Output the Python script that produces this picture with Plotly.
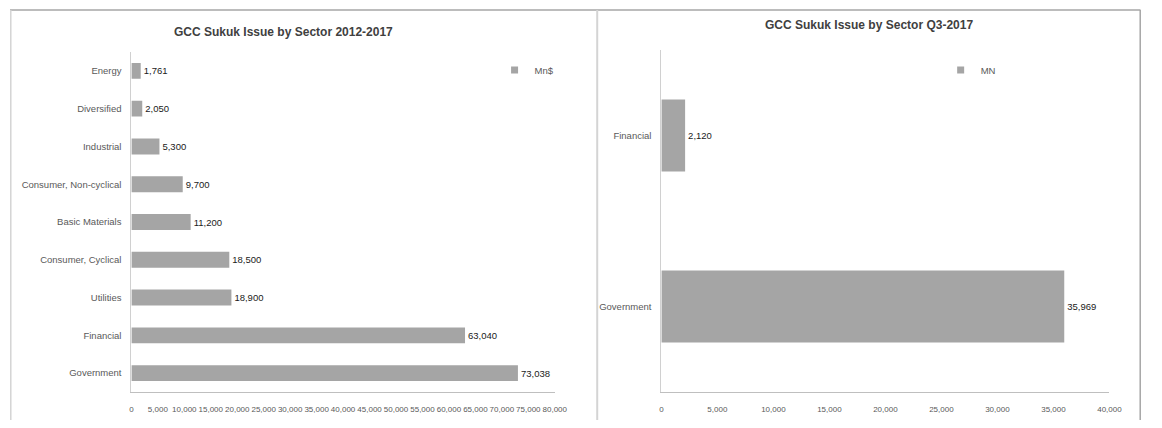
import plotly.graph_objects as go

# ---- data ----
sectors_all = ["Energy", "Diversified", "Industrial", "Consumer, Non-cyclical",
               "Basic Materials", "Consumer, Cyclical", "Utilities", "Financial", "Government"]
issue_all = [1761, 2050, 5300, 9700, 11200, 18500, 18900, 63040, 73038]

sectors_q3 = ["Financial", "Government"]
issue_q3 = [2120, 35969]

ticks_left = [0, 5000, 10000, 15000, 20000, 25000, 30000, 35000, 40000,
              45000, 50000, 55000, 60000, 65000, 70000, 75000, 80000]
ticks_right = [0, 5000, 10000, 15000, 20000, 25000, 30000, 35000, 40000]

title_left = "GCC Sukuk Issue by Sector 2012-2017"
title_right = "GCC Sukuk Issue by Sector Q3-2017"

# ---- layout helpers (page body has an 8px margin) ----
OFF = 8
W, H = 1162 - 2 * OFF, 428 - 2 * OFF
FONT = "Liberation Sans, Arial, sans-serif"
BAR = "#a5a5a5"
GREY_TXT = "#595959"


def px(x):
    return (x - OFF) / W


def py(y):
    return 1 - (y - OFF) / H


fig = go.Figure()

fig.add_trace(go.Bar(
    y=sectors_all, x=issue_all, orientation="h", name="Mn$", showlegend=False,
    marker=dict(color=BAR, line=dict(width=0)),
    texttemplate="%{x:,}", textposition="outside", cliponaxis=False,
    textfont=dict(family=FONT, size=9.5, color="#1a1a1a"),
    xaxis="x", yaxis="y",
))
fig.add_trace(go.Scatter(
    x=[None], y=[None], mode="markers", name="Mn$", showlegend=True,
    marker=dict(symbol="square", size=7, color=BAR),
    xaxis="x", yaxis="y", legend="legend",
))

fig.add_trace(go.Bar(
    y=sectors_q3, x=issue_q3, orientation="h", name="MN", showlegend=False,
    marker=dict(color=BAR, line=dict(width=0)),
    texttemplate="%{x:,}", textposition="outside", cliponaxis=False,
    textfont=dict(family=FONT, size=9.5, color="#1a1a1a"),
    xaxis="x2", yaxis="y2",
))
fig.add_trace(go.Scatter(
    x=[None], y=[None], mode="markers", name="MN", showlegend=True,
    marker=dict(symbol="square", size=7, color=BAR),
    xaxis="x2", yaxis="y2", legend="legend2",
))

axis_common = dict(showgrid=False, zeroline=False, ticks="", tickangle=0,
                   tickfont=dict(family=FONT, size=8, color=GREY_TXT),
                   tickformat=",", ticklabelstandoff=9)
yaxis_common = dict(autorange="reversed", categoryorder="array",
                    showline=True, linecolor="#d0d0d0", linewidth=1,
                    showgrid=False, zeroline=False, ticks="",
                    ticklabelstandoff=7,
                    tickfont=dict(family=FONT, size=9.5, color=GREY_TXT))

fig.update_layout(
    width=W, height=H,
    margin=dict(l=0, r=0, t=0, b=0),
    paper_bgcolor="white", plot_bgcolor="white",
    bargap=0.58,
    showlegend=True,
    font=dict(family=FONT, color=GREY_TXT),
    xaxis=dict(domain=[px(131), px(560)], range=[0, 80000], tickvals=ticks_left,
               showline=True, linecolor="#bfbfbf", linewidth=1, anchor="y",
               **axis_common),
    yaxis=dict(domain=[py(392), py(52)], categoryarray=sectors_all, anchor="x",
               **yaxis_common),
    xaxis2=dict(domain=[px(668), px(1122)], range=[0, 40000], tickvals=ticks_right,
                showline=True, linecolor="#bfbfbf", linewidth=1, anchor="y2",
                **axis_common),
    yaxis2=dict(domain=[py(392), py(50)], categoryarray=sectors_q3, anchor="x2",
                **yaxis_common),
    legend=dict(x=px(499), y=py(70), xanchor="left", yanchor="middle",
                bgcolor="rgba(0,0,0,0)", itemwidth=30,
                font=dict(family=FONT, size=9.5, color=GREY_TXT)),
    legend2=dict(x=px(951), y=py(70), xanchor="left", yanchor="middle",
                 bgcolor="rgba(0,0,0,0)", itemwidth=30,
                 font=dict(family=FONT, size=9.5, color=GREY_TXT)),
    annotations=[
        dict(text="<b>" + title_left + "</b>", x=px(285), y=py(32), xref="paper", yref="paper",
             showarrow=False, xanchor="center", yanchor="middle",
             font=dict(family=FONT, size=12, color="#404040")),
        dict(text="<b>" + title_right + "</b>", x=px(878), y=py(25), xref="paper", yref="paper",
             showarrow=False, xanchor="center", yanchor="middle",
             font=dict(family=FONT, size=12, color="#404040")),
    ],
    shapes=[
        dict(type="line", xref="paper", yref="paper", x0=px(8), x1=px(1153.5), y0=py(10), y1=py(10),
             line=dict(color="#a6a6a6", width=1.5)),
        dict(type="line", xref="paper", yref="paper", x0=px(8.8), x1=px(8.8), y0=py(10), y1=0,
             line=dict(color="#d4d4d4", width=1.5)),
        dict(type="line", xref="paper", yref="paper", x0=px(603), x1=px(603), y0=py(10), y1=0,
             line=dict(color="#d4d4d4", width=2)),
        dict(type="line", xref="paper", yref="paper", x0=px(1153.2), x1=px(1153.2), y0=py(10), y1=0,
             line=dict(color="#a6a6a6", width=1.5)),
    ],
)

fig.write_html("out.html")
